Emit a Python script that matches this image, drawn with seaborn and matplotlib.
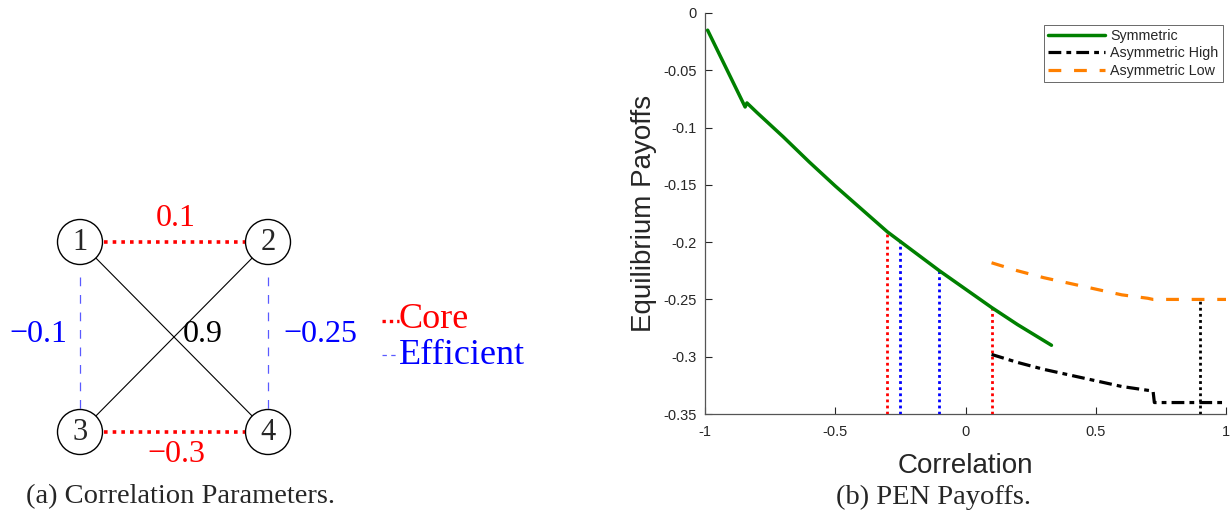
import numpy as np
import pandas as pd
import matplotlib
matplotlib.use("Agg")
import matplotlib.pyplot as plt
from matplotlib.patches import Circle
import seaborn as sns

# ---------------- data: panel (a) correlation network ----------------
nodes = [1, 2, 3, 4]
core_edges = [(1, 2), (3, 4)]
core_corr = [0.1, -0.3]
eff_edges = [(1, 3), (2, 4)]
eff_corr = [-0.1, -0.25]
cross_edges = [(1, 4), (2, 3)]
cross_corr = 0.9
legend_names = ["Core", "Efficient"]
caption_a = "(a) Correlation Parameters."

# ---------------- data: panel (b) PEN payoffs ----------------
sym_x = [-0.99, -0.846, -0.839, -0.8, -0.7, -0.6, -0.5, -0.4, -0.3, -0.2, -0.1, 0.0, 0.1, 0.2, 0.33]
sym_y = [-0.015, -0.082, -0.0785, -0.087, -0.108, -0.130, -0.151, -0.171, -0.191, -0.208, -0.225,
         -0.241, -0.257, -0.272, -0.290]
high_x = [0.1, 0.2, 0.3, 0.4, 0.5, 0.6, 0.72, 0.725, 1.0]
high_y = [-0.298, -0.305, -0.311, -0.316, -0.321, -0.326, -0.330, -0.340, -0.340]
low_x = [0.1, 0.2, 0.3, 0.4, 0.5, 0.6, 0.7, 0.72, 1.0]
low_y = [-0.218, -0.225, -0.231, -0.236, -0.241, -0.246, -0.249, -0.250, -0.250]
series_names = ["Symmetric", "Asymmetric High", "Asymmetric Low"]

core_thresh_x = [-0.3, 0.1]
core_thresh_top = [-0.191, -0.257]
eff_thresh_x = [-0.25, -0.1]
eff_thresh_top = [-0.198, -0.225]
asym_thresh_x = [0.9]
asym_thresh_top = [-0.25]

x_ticks = [-1, -0.5, 0, 0.5, 1]
x_ticklabels = ["-1", "-0.5", "0", "0.5", "1"]
y_ticks = [0, -0.05, -0.1, -0.15, -0.2, -0.25, -0.3, -0.35]
y_ticklabels = ["0", "-0.05", "-0.1", "-0.15", "-0.2", "-0.25", "-0.3", "-0.35"]
xlabel = "Correlation"
ylabel = "Equilibrium Payoffs"
caption_b = "(b) PEN Payoffs."

# ---------------- style ----------------
sns.set_style("ticks", rc={"xtick.direction": "in", "ytick.direction": "in"})
plt.rcParams["font.family"] = ["Liberation Sans", "DejaVu Sans"]
plt.rcParams["axes.unicode_minus"] = False

W, H = 1231, 518
fig = plt.figure(figsize=(W / 100, H / 100), dpi=100)

SERIF = ["Liberation Serif", "DejaVu Serif"]
AXC = "#262626"


def fmt(v):
    s = f"{v:g}"
    return s.replace("-", "\u2212")


# ---------------- panel (a) ----------------
axa = fig.add_axes([0, 0, 615.5 / W, 1])
axa.set_xlim(0, 615.5)
axa.set_ylim(H, 0)
axa.set_axis_off()

pos = {1: (80, 242), 2: (268, 242), 3: (80, 432), 4: (268, 432)}
R = 22.5


def edge_pts(a, b, gap0=0.0, gap1=0.0):
    (x0, y0), (x1, y1) = pos[a], pos[b]
    d = np.hypot(x1 - x0, y1 - y0)
    ux, uy = (x1 - x0) / d, (y1 - y0) / d
    return ([x0 + ux * (R + gap0), x1 - ux * (R + gap1)],
            [y0 + uy * (R + gap0), y1 - uy * (R + gap1)])


for (a, b) in cross_edges:
    xs, ys = edge_pts(a, b)
    axa.plot(xs, ys, color="black", lw=0.8, zorder=2)
for (a, b) in core_edges:
    xs, ys = edge_pts(a, b, 1, 1)
    axa.plot(xs, ys, color="red", lw=2.6, linestyle=(0, (1, 1.4)), zorder=2)
for (a, b) in eff_edges:
    xs, ys = edge_pts(a, b, 12, 0)
    axa.plot(xs, ys, color="#5a5aff", lw=0.9, linestyle=(0, (7, 7)), zorder=2)

for n in nodes:
    axa.add_patch(Circle(pos[n], R, facecolor="white", edgecolor="black", lw=1.0, zorder=3))
    axa.text(pos[n][0], pos[n][1] + 1, str(n), ha="center", va="center", fontsize=22,
             family=SERIF, zorder=4)

# edge labels
core_label_pos = [(176, 218), (176, 455)]
for v, (lx, ly) in zip(core_corr, core_label_pos):
    axa.text(lx, ly, fmt(v), color="red", ha="center", va="center", fontsize=23, family=SERIF)
eff_label_pos = [(38, 335), (320, 335)]
for v, (lx, ly) in zip(eff_corr, eff_label_pos):
    axa.text(lx, ly, fmt(v), color="blue", ha="center", va="center", fontsize=23, family=SERIF)
axa.text(183, 335, fmt(cross_corr), color="black", ha="left", va="center", fontsize=23, family=SERIF)

# inline legend
axa.plot([382, 399], [321, 321], color="red", lw=2.4, linestyle=(0, (1, 1.2)))
axa.text(399, 320, legend_names[0], color="red", ha="left", va="center", fontsize=26, family=SERIF)
axa.plot([382, 399], [355, 355], color="#5a5aff", lw=0.9, linestyle=(0, (3.5, 3.5)))
axa.text(399, 355, legend_names[1], color="blue", ha="left", va="center", fontsize=26, family=SERIF)

fig.text(180 / W, 1 - 497 / H, caption_a, ha="center", va="center", fontsize=20.5, family=SERIF)

# ---------------- panel (b) ----------------
L, R_, T, B = 705, 1226, 13, 414
axb = fig.add_axes([L / W, 1 - B / H, (R_ - L) / W, (B - T) / H])

sns.lineplot(x=sym_x, y=sym_y, ax=axb, color="#008000", lw=2.5, sort=False, estimator=None,
             label=series_names[0], zorder=4)
sns.lineplot(x=high_x, y=high_y, ax=axb, color="black", lw=2.3, sort=False, estimator=None,
             linestyle=(0, (4, 1.6, 1.5, 1.6)), label=series_names[1], zorder=4)
sns.lineplot(x=low_x, y=low_y, ax=axb, color="#ff8000", lw=2.3, sort=False, estimator=None,
             linestyle=(0, (4, 4)), label=series_names[2], zorder=4)

axb.vlines(core_thresh_x, -0.35, core_thresh_top, colors="red", lw=2.0, linestyles=[(0, (1, 1.2))], zorder=3)
axb.vlines(eff_thresh_x, -0.35, eff_thresh_top, colors="blue", lw=2.0, linestyles=[(0, (1, 1.2))], zorder=3)
axb.vlines(asym_thresh_x, -0.35, asym_thresh_top, colors="black", lw=2.0, linestyles=[(0, (1, 1.2))], zorder=5)

axb.set_xlim(-1, 1)
axb.set_ylim(-0.35, 0)
axb.set_xticks(x_ticks)
axb.set_xticklabels(x_ticklabels)
axb.set_yticks(y_ticks)
axb.set_yticklabels(y_ticklabels)
axb.tick_params(axis="both", direction="in", length=5, width=0.8, color=AXC,
                labelsize=10.5, labelcolor=AXC)
axb.tick_params(axis="x", pad=8)
axb.tick_params(axis="y", pad=6)
sns.despine(ax=axb)
for s in ["left", "bottom"]:
    axb.spines[s].set_color("#555555")
    axb.spines[s].set_linewidth(0.9)
axb.patch.set_alpha(0)

axb.set_xlabel(xlabel, fontsize=20, color=AXC)
axb.set_ylabel(ylabel, fontsize=20, color=AXC)
axb.xaxis.set_label_coords(0.5, -0.098)
axb.yaxis.set_label_coords(-0.093, 0.5)

leg = axb.legend(loc="upper right", bbox_to_anchor=(0.994, 0.97), borderaxespad=0,
                 fontsize=10.3, handlelength=4.0, handletextpad=0.35, labelspacing=0.22,
                 fancybox=False, frameon=True, borderpad=0.3)
leg.get_frame().set_edgecolor(AXC)
leg.get_frame().set_linewidth(0.6)

fig.text(933 / W, 1 - 497 / H, caption_b, ha="center", va="center", fontsize=20.5, family=SERIF)

fig.savefig("out.png", dpi=100, facecolor="white")
